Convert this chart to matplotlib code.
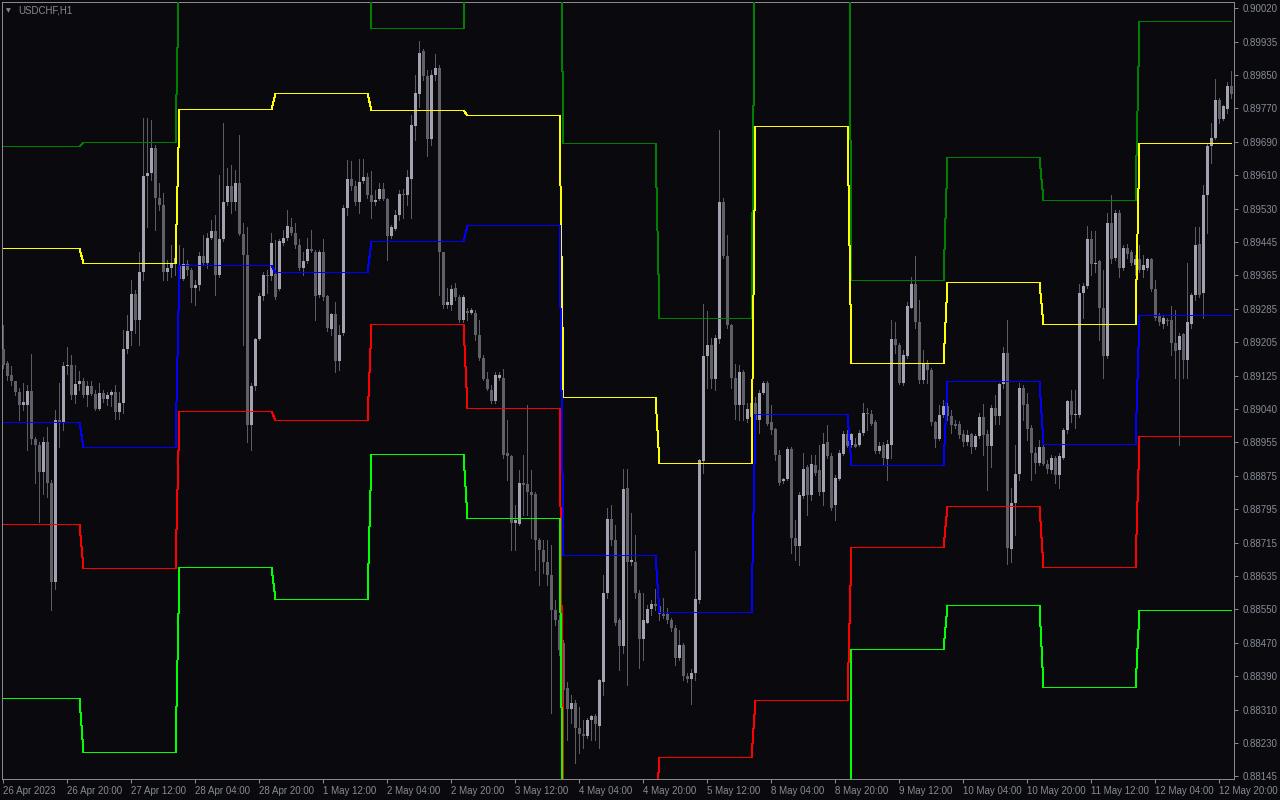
import matplotlib
matplotlib.use("Agg")
import matplotlib.pyplot as plt
import numpy as np

# ---------------- data (USDCHF H1, 26 Apr 2023 04:00 .. 12 May 2023 23:00) ----------------
opens = [0.89188,0.89155,0.89125,0.89110,0.89084,0.89051,0.89051,0.89085,0.88969,0.88954,
0.88889,0.88961,0.88860,0.88620,0.89016,0.89007,0.89146,0.89149,0.89076,0.89103,
0.89109,0.89076,0.89098,0.89078,0.89042,0.89081,0.89066,0.89076,0.89084,0.89035,
0.89057,0.89189,0.89232,0.89322,0.89259,0.89377,0.89610,0.89619,0.89678,0.89558,
0.89540,0.89375,0.89387,0.89396,0.89393,0.89359,0.89396,0.89381,0.89338,0.89344,
0.89415,0.89399,0.89460,0.89476,0.89369,0.89457,0.89548,0.89586,0.89548,0.89594,
0.89469,0.89417,0.89002,0.89098,0.89212,0.89317,0.89369,0.89366,0.89371,0.89334,
0.89448,0.89460,0.89485,0.89472,0.89442,0.89387,0.89403,0.89432,0.89424,0.89320,
0.89424,0.89317,0.89237,0.89273,0.89159,0.89228,0.89533,0.89603,0.89586,0.89546,
0.89598,0.89607,0.89564,0.89546,0.89554,0.89580,0.89555,0.89464,0.89481,0.89515,
0.89566,0.89564,0.89604,0.89732,0.89812,0.89916,0.89855,0.89702,0.89857,0.89875,
0.89424,0.89295,0.89295,0.89338,0.89314,0.89259,0.89281,0.89277,0.89277,0.89222,
0.89167,0.89115,0.89088,0.89061,0.89118,0.89118,0.88935,0.88927,0.88764,0.88761,
0.88862,0.88858,0.88838,0.88834,0.88722,0.88697,0.88667,0.88636,0.88551,0.88526,
0.88471,0.88361,0.88309,0.88325,0.88264,0.88248,0.88243,0.88282,0.88292,0.88267,
0.88374,0.88593,0.88773,0.88722,0.88526,0.88463,0.88850,0.88667,0.88667,0.88593,
0.88480,0.88520,0.88553,0.88565,0.88561,0.88541,0.88541,0.88526,0.88508,0.88435,
0.88465,0.88390,0.88382,0.88398,0.88575,0.88915,0.89171,0.89198,0.89116,0.89212,
0.89546,0.89415,0.89247,0.89118,0.89051,0.89131,0.89017,0.89021,0.89057,0.89015,
0.89082,0.89106,0.89011,0.88993,0.88929,0.88866,0.88871,0.88944,0.88728,0.88707,
0.88829,0.88899,0.88832,0.88905,0.88893,0.88838,0.88960,0.88927,0.88807,0.88871,
0.88932,0.88980,0.88954,0.88956,0.88954,0.88984,0.89033,0.89029,0.89009,0.88939,
0.88954,0.88919,0.88954,0.89212,0.89198,0.89106,0.89171,0.89289,0.89347,0.89253,
0.89112,0.89151,0.89137,0.89009,0.88968,0.89027,0.89049,0.89024,0.89005,0.89005,
0.88980,0.88960,0.88980,0.88948,0.88976,0.89021,0.88980,0.88951,0.89045,0.89024,
0.89103,0.89179,0.88700,0.88813,0.88883,0.89094,0.89054,0.88996,0.88935,0.88911,
0.88948,0.88907,0.88893,0.88923,0.88880,0.88923,0.88990,0.89061,0.89027,0.89027,
0.89326,0.89342,0.89457,0.89396,0.89403,0.89289,0.89171,0.89497,0.89411,0.89521,
0.89387,0.89436,0.89424,0.89393,0.89408,0.89381,0.89387,0.89408,0.89334,0.89269,
0.89249,0.89259,0.89259,0.89204,0.89186,0.89225,0.89161,0.89249,0.89320,0.89444,
0.89324,0.89564,0.89684,0.89704,0.89796,0.89750,0.89774,0.89830]

highs = [0.89247,0.89159,0.89146,0.89110,0.89092,0.89106,0.89100,0.89176,0.88974,0.88960,
0.88974,0.88999,0.88868,0.89040,0.89104,0.89157,0.89192,0.89173,0.89149,0.89135,
0.89118,0.89109,0.89109,0.89087,0.89106,0.89088,0.89084,0.89088,0.89100,0.89084,
0.89234,0.89271,0.89356,0.89332,0.89424,0.89751,0.89753,0.89747,0.89686,0.89594,
0.89570,0.89405,0.89442,0.89448,0.89442,0.89436,0.89405,0.89387,0.89356,0.89424,
0.89466,0.89472,0.89503,0.89515,0.89613,0.89741,0.89631,0.89637,0.89625,0.89710,
0.89497,0.89485,0.89106,0.89216,0.89326,0.89375,0.89381,0.89472,0.89454,0.89457,
0.89479,0.89527,0.89509,0.89497,0.89457,0.89424,0.89460,0.89479,0.89430,0.89430,
0.89457,0.89320,0.89277,0.89302,0.89247,0.89540,0.89649,0.89647,0.89598,0.89652,
0.89652,0.89619,0.89623,0.89576,0.89594,0.89594,0.89558,0.89491,0.89527,0.89576,
0.89579,0.89625,0.89759,0.89857,0.89940,0.89920,0.89869,0.89869,0.89908,0.89881,
0.89424,0.89338,0.89344,0.89350,0.89320,0.89320,0.89289,0.89289,0.89283,0.89259,
0.89173,0.89131,0.89100,0.89131,0.89131,0.89139,0.89015,0.88929,0.88807,0.88893,
0.88929,0.89051,0.88893,0.88838,0.88728,0.88722,0.88722,0.88709,0.88575,0.88538,
0.88477,0.88374,0.88343,0.88331,0.88313,0.88282,0.88288,0.88294,0.88297,0.88382,
0.88636,0.88801,0.88807,0.88758,0.88532,0.88895,0.88895,0.88789,0.88734,0.88600,
0.88593,0.88563,0.88575,0.88602,0.88581,0.88581,0.88557,0.88532,0.88514,0.88502,
0.88471,0.88398,0.88407,0.88695,0.88919,0.89298,0.89281,0.89216,0.89222,0.89723,
0.89558,0.89466,0.89249,0.89151,0.89149,0.89137,0.89057,0.89063,0.89070,0.89088,
0.89110,0.89110,0.89051,0.88996,0.88941,0.88874,0.88948,0.88948,0.88771,0.88838,
0.88935,0.88905,0.88929,0.88929,0.88954,0.88984,0.89002,0.88935,0.88880,0.88941,
0.88988,0.88990,0.88984,0.88972,0.88990,0.89057,0.89045,0.89039,0.89015,0.88960,
0.88960,0.88966,0.89259,0.89253,0.89204,0.89186,0.89302,0.89363,0.89415,0.89308,
0.89186,0.89161,0.89143,0.89012,0.89051,0.89063,0.89057,0.89039,0.89015,0.89012,
0.88990,0.88990,0.88984,0.88980,0.89033,0.89054,0.88990,0.89051,0.89076,0.89106,
0.89192,0.89259,0.88850,0.88954,0.89106,0.89100,0.89082,0.89002,0.88948,0.88966,
0.88990,0.88917,0.88929,0.88927,0.88935,0.88996,0.89063,0.89088,0.89088,0.89347,
0.89350,0.89488,0.89476,0.89476,0.89405,0.89381,0.89521,0.89564,0.89527,0.89527,
0.89442,0.89444,0.89430,0.89417,0.89442,0.89417,0.89411,0.89411,0.89356,0.89277,
0.89271,0.89265,0.89293,0.89283,0.89228,0.89228,0.89399,0.89326,0.89485,0.89485,
0.89588,0.89692,0.89741,0.89847,0.89802,0.89784,0.89839,0.89867]

lows = [0.89143,0.89112,0.89100,0.89076,0.89015,0.89039,0.88941,0.88957,0.88860,0.88767,
0.88835,0.88828,0.88551,0.88603,0.88950,0.88990,0.89128,0.89067,0.89057,0.89088,
0.89072,0.89049,0.89076,0.89039,0.89039,0.89060,0.89051,0.89048,0.89018,0.89018,
0.89033,0.89179,0.89198,0.89228,0.89198,0.89356,0.89485,0.89601,0.89479,0.89527,
0.89356,0.89356,0.89363,0.89369,0.89350,0.89356,0.89369,0.89302,0.89295,0.89332,
0.89393,0.89387,0.89457,0.89320,0.89363,0.89452,0.89540,0.89521,0.89527,0.89466,
0.89198,0.88960,0.88941,0.89088,0.89210,0.89308,0.89326,0.89356,0.89310,0.89332,
0.89442,0.89454,0.89466,0.89436,0.89381,0.89369,0.89399,0.89424,0.89259,0.89314,
0.89308,0.89232,0.89222,0.89131,0.89137,0.89222,0.89515,0.89576,0.89540,0.89521,
0.89594,0.89558,0.89509,0.89540,0.89552,0.89552,0.89405,0.89460,0.89479,0.89503,
0.89509,0.89540,0.89509,0.89698,0.89778,0.89845,0.89659,0.89686,0.89845,0.89320,
0.89289,0.89289,0.89283,0.89308,0.89253,0.89253,0.89259,0.89273,0.89210,0.89161,
0.89112,0.89088,0.89057,0.89057,0.89112,0.88923,0.88868,0.88697,0.88697,0.88758,
0.88783,0.88783,0.88728,0.88648,0.88612,0.88642,0.88612,0.88300,0.88514,0.88441,
0.88239,0.88233,0.88276,0.88178,0.88203,0.88215,0.88239,0.88233,0.88233,0.88215,
0.88343,0.88581,0.88709,0.88514,0.88404,0.88447,0.88368,0.88661,0.88581,0.88410,
0.88429,0.88520,0.88538,0.88551,0.88526,0.88532,0.88520,0.88499,0.88416,0.88429,
0.88380,0.88374,0.88321,0.88380,0.88569,0.88886,0.89094,0.89094,0.89088,0.89204,
0.89411,0.89240,0.89094,0.89017,0.89015,0.89015,0.89011,0.89009,0.88978,0.88984,
0.89078,0.89002,0.88980,0.88917,0.88856,0.88862,0.88868,0.88691,0.88673,0.88661,
0.88825,0.88783,0.88819,0.88880,0.88832,0.88807,0.88923,0.88795,0.88771,0.88868,
0.88929,0.88948,0.88948,0.88948,0.88951,0.88978,0.88990,0.89002,0.88935,0.88935,
0.88905,0.88868,0.88923,0.89179,0.89103,0.89100,0.89167,0.89289,0.89240,0.89106,
0.89106,0.89106,0.89002,0.88948,0.88966,0.89021,0.89015,0.88984,0.88996,0.88972,
0.88951,0.88954,0.88935,0.88944,0.88972,0.88929,0.88844,0.88899,0.89005,0.89005,
0.89094,0.88663,0.88667,0.88734,0.88868,0.89015,0.88966,0.88868,0.88886,0.88905,
0.88905,0.88886,0.88886,0.88862,0.88850,0.88919,0.88984,0.89009,0.88996,0.89021,
0.89265,0.89338,0.89369,0.89375,0.89210,0.89118,0.89167,0.89399,0.89405,0.89363,
0.89381,0.89411,0.89393,0.89369,0.89375,0.89363,0.89381,0.89330,0.89259,0.89247,
0.89240,0.89247,0.89173,0.89118,0.88954,0.89118,0.89118,0.89240,0.89308,0.89314,
0.89265,0.89472,0.89643,0.89701,0.89741,0.89747,0.89765,0.89802]

closes = [0.89148,0.89123,0.89110,0.89084,0.89051,0.89060,0.89085,0.88969,0.88954,0.88889,
0.88961,0.88860,0.88620,0.89016,0.89007,0.89146,0.89149,0.89076,0.89103,0.89109,
0.89076,0.89098,0.89078,0.89042,0.89081,0.89066,0.89076,0.89084,0.89035,0.89057,
0.89189,0.89232,0.89322,0.89259,0.89377,0.89610,0.89619,0.89678,0.89558,0.89540,
0.89375,0.89387,0.89396,0.89411,0.89359,0.89396,0.89381,0.89338,0.89344,0.89415,
0.89399,0.89460,0.89476,0.89369,0.89457,0.89548,0.89586,0.89548,0.89594,0.89469,
0.89417,0.89002,0.89098,0.89212,0.89317,0.89369,0.89366,0.89448,0.89314,0.89452,
0.89460,0.89488,0.89472,0.89442,0.89387,0.89403,0.89432,0.89427,0.89317,0.89424,
0.89314,0.89240,0.89273,0.89159,0.89222,0.89533,0.89603,0.89586,0.89546,0.89596,
0.89607,0.89564,0.89546,0.89552,0.89580,0.89555,0.89464,0.89485,0.89515,0.89566,
0.89564,0.89607,0.89735,0.89814,0.89912,0.89855,0.89702,0.89857,0.89875,0.89424,
0.89295,0.89302,0.89334,0.89314,0.89259,0.89314,0.89277,0.89283,0.89222,0.89167,
0.89115,0.89090,0.89061,0.89125,0.89125,0.88929,0.88927,0.88764,0.88770,0.88862,
0.88856,0.88838,0.88832,0.88722,0.88697,0.88667,0.88636,0.88551,0.88526,0.88453,
0.88355,0.88309,0.88325,0.88264,0.88248,0.88243,0.88282,0.88292,0.88272,0.88380,
0.88593,0.88773,0.88722,0.88520,0.88463,0.88846,0.88667,0.88673,0.88593,0.88480,
0.88526,0.88553,0.88565,0.88561,0.88541,0.88536,0.88526,0.88508,0.88435,0.88465,
0.88390,0.88382,0.88398,0.88578,0.88917,0.89171,0.89198,0.89116,0.89216,0.89546,
0.89415,0.89247,0.89118,0.89051,0.89131,0.89051,0.89042,0.89057,0.89015,0.89082,
0.89106,0.89005,0.88990,0.88929,0.88862,0.88871,0.88944,0.88728,0.88707,0.88832,
0.88895,0.88832,0.88907,0.88886,0.88838,0.88956,0.88927,0.88801,0.88874,0.88935,
0.88980,0.88951,0.88980,0.88950,0.88984,0.89033,0.89029,0.89005,0.88939,0.88951,
0.88923,0.88956,0.89212,0.89198,0.89106,0.89173,0.89293,0.89347,0.89253,0.89112,
0.89151,0.89137,0.89009,0.88968,0.89027,0.89049,0.89024,0.89002,0.89000,0.88978,
0.88960,0.88978,0.88948,0.88976,0.89021,0.88978,0.88951,0.89045,0.89024,0.89103,
0.89179,0.88703,0.88813,0.88883,0.89094,0.89051,0.88993,0.88935,0.88911,0.88948,
0.88907,0.88895,0.88923,0.88880,0.88927,0.88990,0.89061,0.89027,0.89029,0.89326,
0.89342,0.89457,0.89396,0.89399,0.89289,0.89171,0.89497,0.89408,0.89521,0.89387,
0.89436,0.89420,0.89399,0.89408,0.89381,0.89393,0.89408,0.89334,0.89265,0.89253,
0.89265,0.89256,0.89204,0.89183,0.89220,0.89161,0.89253,0.89320,0.89442,0.89320,
0.89564,0.89684,0.89704,0.89796,0.89750,0.89781,0.89830,0.89811]

# daily pivot levels (one value per trading day shown)
day_names = ["26 Apr", "27 Apr", "28 Apr", "1 May", "2 May", "3 May", "4 May",
             "5 May", "8 May", "9 May", "10 May", "11 May", "12 May"]
day_bar_counts = [20, 24, 24, 24, 24, 24, 24, 24, 24, 24, 24, 24, 24]
r2 = [0.89684, 0.89694, 0.90132, 0.90175, 0.89972, 0.90209, 0.89691, 0.89263, 0.90432, 0.89356, 0.89658, 0.89552, 0.89988]
r1 = [0.89435, 0.89399, 0.89775, 0.89813, 0.89772, 0.89760, 0.89072, 0.88911, 0.89733, 0.89154, 0.89352, 0.89249, 0.89691]
pp = [0.89011, 0.88950, 0.89393, 0.89376, 0.89451, 0.89492, 0.88685, 0.88546, 0.89030, 0.88905, 0.89109, 0.88956, 0.89271]
s1 = [0.88761, 0.88654, 0.89036, 0.89014, 0.89249, 0.89043, 0.88066, 0.88193, 0.88331, 0.88704, 0.88805, 0.88655, 0.88975]
s2 = [0.88336, 0.88204, 0.88655, 0.88578, 0.88932, 0.88776, 0.87679, 0.87828, 0.87628, 0.88456, 0.88562, 0.88363, 0.88552]

price_tick_labels = ["0.90020", "0.89935", "0.89850", "0.89770", "0.89690", "0.89610",
                     "0.89530", "0.89445", "0.89365", "0.89285", "0.89205", "0.89125",
                     "0.89040", "0.88955", "0.88875", "0.88795", "0.88715", "0.88635",
                     "0.88550", "0.88470", "0.88390", "0.88310", "0.88230", "0.88145"]
time_tick_labels = ["26 Apr 2023", "26 Apr 20:00", "27 Apr 12:00", "28 Apr 04:00", "28 Apr 20:00",
                    "1 May 12:00", "2 May 04:00", "2 May 20:00", "3 May 12:00", "4 May 04:00",
                    "4 May 20:00", "5 May 12:00", "8 May 04:00", "8 May 20:00", "9 May 12:00",
                    "10 May 04:00", "10 May 20:00", "11 May 12:00", "12 May 04:00", "12 May 20:00"]
time_tick_step = 16   # bars between time labels
symbol_title = "USDCHF,H1"

# ---------------- style ----------------
BG = "#0a0a0e"
TXT = "#868b96"
FRAME = "#8a8a8e"
BULL = "#a2a2b0"
BEAR = "#606068"
WICK = "#5c5c64"
LEVEL_COLORS = {"R2": "#008000", "R1": "#ffff00", "PP": "#0000ff", "S1": "#ff0000", "S2": "#00ff00"}

W, H = 1280, 800
fig = plt.figure(figsize=(W / 100, H / 100), dpi=100, facecolor=BG)
ax = fig.add_axes([2 / W, 21 / H, 1232 / W, 777 / H], facecolor=BG)

o = np.array(opens); h = np.array(highs); l = np.array(lows); c = np.array(closes)
x = np.arange(len(c))

# wicks
wk = ax.vlines(x, l, h, colors=WICK, linewidth=0.72, antialiased=False, zorder=2)
wk.set_snap(True)
# bodies
up = c >= o
body_lo = np.minimum(o, c)
body_h = np.maximum(np.abs(c - o), 0.000025)
ax.bar(x[up], body_h[up], bottom=body_lo[up], width=0.78, color=BULL, linewidth=0,
       antialiased=False, zorder=3)
ax.bar(x[~up], body_h[~up], bottom=body_lo[~up], width=0.78, color=BEAR, linewidth=0,
       antialiased=False, zorder=3)

# pivot levels
for name, vals in [("R2", r2), ("R1", r1), ("PP", pp), ("S1", s1), ("S2", s2)]:
    series = np.repeat(vals, day_bar_counts)
    ln, = ax.plot(x, series, color=LEVEL_COLORS[name], linewidth=0.72, antialiased=False,
                  solid_joinstyle="miter", zorder=4)
    ln.set_snap(True)

# axes limits so that bar i sits at 3.3 + 4*i px
ax.set_xlim(-0.325, len(c) - 1 + 0.675)
ax.set_ylim(0.881384, 0.900354)

# price axis (right)
ax.yaxis.tick_right()
ax.set_yticks(np.linspace(0.90020, 0.88145, len(price_tick_labels)))
ax.set_yticklabels(price_tick_labels)
ax.tick_params(axis="y", direction="out", length=3, width=0.72, color=FRAME, pad=3,
               labelsize=7, labelcolor=TXT)
# time axis
ax.set_xticks(np.arange(0, len(c), time_tick_step)[:len(time_tick_labels)])
ax.set_xticklabels(time_tick_labels)
ax.tick_params(axis="x", direction="out", length=3, width=0.72, color=FRAME, pad=2,
               labelsize=7, labelcolor=TXT)
for t in ax.get_xticklabels():
    t.set_horizontalalignment("left")
for t in ax.get_xticklabels() + ax.get_yticklabels():
    t.set_fontfamily("Liberation Sans")

for sp in ax.spines.values():
    sp.set_color(FRAME)
    sp.set_linewidth(0.72)

# title
fig.text(6 / W, 1 - 10.5 / H, "\u25BC", fontsize=4.5, color=TXT, va="center", ha="left",
         family="DejaVu Sans")
fig.text(18 / W, 1 - 10.5 / H, symbol_title, fontsize=7, color=TXT, va="center", ha="left",
         family="Liberation Sans")

fig.savefig("out.png", dpi=100, facecolor=BG)
